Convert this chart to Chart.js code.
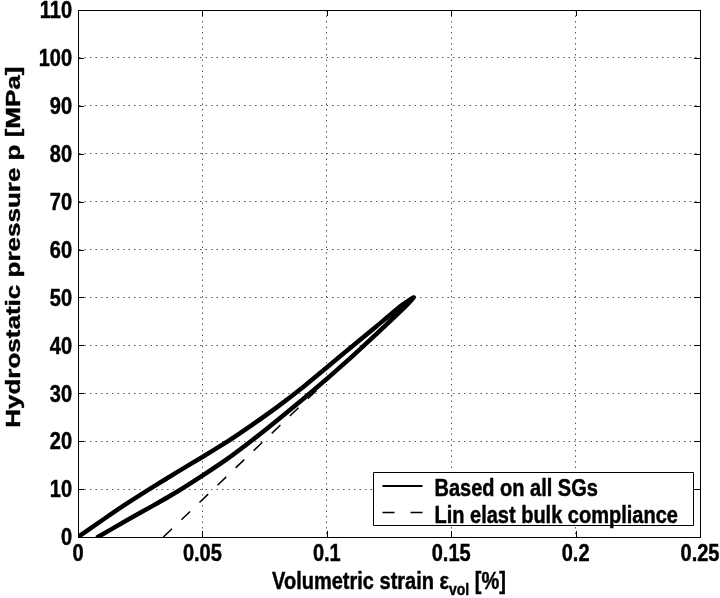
<!DOCTYPE html>
<html>
<head>
<meta charset="utf-8">
<script src="https://cdn.jsdelivr.net/npm/chart.js@4/dist/chart.umd.min.js"></script>
<style>
  html, body { margin: 0; padding: 0; background: #fff; }
  #wrap { width: 720px; height: 598px; }
  canvas { display: block; }
</style>
</head>
<body>
<div id="wrap"><canvas id="chart" width="720" height="598"></canvas></div>
<script>
// Axis ticks
const xTickValues = [0, 0.05, 0.1, 0.15, 0.2, 0.25];
const xTickLabels = ['0', '0.05', '0.1', '0.15', '0.2', '0.25'];
const yTickValues = [0, 10, 20, 30, 40, 50, 60, 70, 80, 90, 100, 110];
const yTickLabels = ['0', '10', '20', '30', '40', '50', '60', '70', '80', '90', '100', '110'];

// Pressure cycle measured from all strain gauges: loading branch, then unloading branch
const loopStrain = [0, 0.01, 0.02, 0.03, 0.04, 0.05, 0.06, 0.07, 0.08, 0.09, 0.1, 0.11, 0.12, 0.13, 0.135,
                    0.13, 0.12, 0.11, 0.1, 0.09, 0.08, 0.07, 0.06, 0.05, 0.04, 0.03, 0.02, 0.008];
const loopPressure = [0, 3.6, 7.1, 10.4, 13.6, 16.7, 19.9, 23.4, 27.1, 31.1, 35.4, 39.7, 44.0, 48.3, 50,
                      47.3, 42.4, 37.6, 33.0, 28.6, 24.3, 20.2, 16.3, 12.8, 9.5, 6.5, 3.6, 0];

// Linear elastic bulk compliance line
const bulkStrain = [0.0343, 0.135];
const bulkPressure = [0, 50];

const seriesLabels = ['Based on all SGs', 'Lin elast bulk compliance'];
const xTitleMain = 'Volumetric strain \u03b5';
const xTitleSub = 'vol';
const xTitleTail = ' [%]';
const yTitle = 'Hydrostatic pressure p [MPa]';

const FONT_FAMILY = '"Liberation Sans", Arial, Helvetica, sans-serif';
const FONT_SIZE = 20;
const TEXT_STRETCH = 1.15;     // horizontal text: glyphs drawn taller than wide
const YTITLE_STRETCH = 1.3;    // vertical title: stretched along its length
const CAP = 0.716 * FONT_SIZE * TEXT_STRETCH;

const toPoints = (xs, ys) => xs.map((x, i) => ({ x: x, y: ys[i] }));

function heavyText(ctx, text, x, y) {
  ctx.fillText(text, x, y);
  ctx.strokeText(text, x, y);
}

function tallText(ctx, text, x, y, align) {
  ctx.save();
  ctx.translate(x, y);
  ctx.scale(1, TEXT_STRETCH);
  ctx.textAlign = align;
  ctx.textBaseline = 'alphabetic';
  heavyText(ctx, text, 0, 0);
  ctx.restore();
}

// Frame, inward tick marks, tick labels, axis titles and the boxed legend
const framePlugin = {
  id: 'frame',
  afterDraw(chart) {
    const { ctx, chartArea: a, scales } = chart;
    const xs = scales.x, ys = scales.y;
    const mainFont = 'bold ' + FONT_SIZE + 'px ' + FONT_FAMILY;
    const subFont = 'bold ' + Math.round(FONT_SIZE * 0.72) + 'px ' + FONT_FAMILY;
    ctx.save();
    ctx.strokeStyle = '#000';
    ctx.lineWidth = 1;
    ctx.setLineDash([]);
    ctx.strokeRect(Math.round(a.left) + 0.5, Math.round(a.top) + 0.5,
                   Math.round(a.right - a.left), Math.round(a.bottom - a.top));
    const tl = 6;
    ctx.beginPath();
    xTickValues.forEach(v => {
      const px = Math.round(xs.getPixelForValue(v)) + 0.5;
      ctx.moveTo(px, a.bottom); ctx.lineTo(px, a.bottom - tl);
      ctx.moveTo(px, a.top); ctx.lineTo(px, a.top + tl);
    });
    yTickValues.forEach(v => {
      const py = Math.round(ys.getPixelForValue(v)) + 0.5;
      ctx.moveTo(a.left, py); ctx.lineTo(a.left + tl, py);
      ctx.moveTo(a.right, py); ctx.lineTo(a.right - tl, py);
    });
    ctx.stroke();

    // text styling shared by labels and titles
    ctx.fillStyle = '#000';
    ctx.strokeStyle = '#000';
    ctx.lineWidth = 0.4;
    ctx.lineJoin = 'round';

    // tick labels
    ctx.font = mainFont;
    xTickValues.forEach((v, i) => {
      tallText(ctx, xTickLabels[i], xs.getPixelForValue(v), a.bottom + 8 + CAP, 'center');
    });
    yTickValues.forEach((v, i) => {
      tallText(ctx, yTickLabels[i], a.left - 6, ys.getPixelForValue(v) + CAP / 2, 'right');
    });

    // x-axis title with subscript
    ctx.font = mainFont;
    const w1 = ctx.measureText(xTitleMain).width;
    const w3 = ctx.measureText(xTitleTail).width;
    ctx.font = subFont;
    const w2 = ctx.measureText(xTitleSub).width;
    const total = w1 + w2 + w3;
    const tx = (a.left + a.right) / 2 - total / 2;
    const ty = 589;
    ctx.font = mainFont;
    tallText(ctx, xTitleMain, tx, ty, 'left');
    ctx.font = subFont;
    tallText(ctx, xTitleSub, tx + w1, ty + 6, 'left');
    ctx.font = mainFont;
    tallText(ctx, xTitleTail, tx + w1 + w2, ty, 'left');

    // y-axis title, stretched along its length
    ctx.save();
    ctx.translate(20, ys.getPixelForValue(60.5));
    ctx.rotate(-Math.PI / 2);
    ctx.scale(YTITLE_STRETCH, 1);
    ctx.textAlign = 'center';
    ctx.textBaseline = 'alphabetic';
    ctx.font = mainFont;
    heavyText(ctx, yTitle, 0, 0);
    ctx.restore();

    // legend
    const bw = 320, bh = 53;
    const bx = Math.round(a.right - 7 - bw) + 0.5;
    const by = Math.round(a.bottom - 12 - bh) + 0.5;
    ctx.fillStyle = '#fff';
    ctx.fillRect(bx, by, bw, bh);
    ctx.strokeStyle = '#000';
    ctx.lineWidth = 1;
    ctx.strokeRect(bx, by, bw, bh);
    const rows = [by + 13.5, by + 40];
    const sx0 = bx + 9, sx1 = bx + 49;
    chart.data.datasets.forEach((ds, i) => {
      const ry = rows[i];
      ctx.strokeStyle = '#000';
      ctx.lineWidth = i === 0 ? 2 : 1.3;
      ctx.setLineDash(i === 0 ? [] : [12, 16]);
      ctx.beginPath();
      ctx.moveTo(sx0, ry); ctx.lineTo(sx1, ry);
      ctx.stroke();
      ctx.setLineDash([]);
      ctx.fillStyle = '#000';
      ctx.lineWidth = 0.4;
      ctx.font = mainFont;
      tallText(ctx, ds.label, bx + 61, ry + 2 + CAP / 2, 'left');
    });
    ctx.restore();
  }
};

new Chart(document.getElementById('chart'), {
  type: 'scatter',
  data: {
    datasets: [
      {
        label: seriesLabels[0],
        data: toPoints(loopStrain, loopPressure),
        showLine: true,
        borderColor: '#000',
        backgroundColor: '#000',
        borderWidth: 4.5,
        pointRadius: 0,
        tension: 0.2,
        borderJoinStyle: 'round',
        borderCapStyle: 'round',
        order: 1
      },
      {
        label: seriesLabels[1],
        data: toPoints(bulkStrain, bulkPressure),
        showLine: true,
        borderColor: '#000',
        backgroundColor: '#000',
        borderWidth: 1.5,
        borderDash: [12, 13],
        pointRadius: 0,
        order: 2
      }
    ]
  },
  options: {
    responsive: false,
    animation: false,
    devicePixelRatio: 1,
    layout: { padding: { top: 10, right: 20, left: 0, bottom: 0 } },
    plugins: {
      legend: { display: false },
      tooltip: { enabled: false }
    },
    scales: {
      x: {
        type: 'linear',
        min: 0, max: 0.25,
        afterBuildTicks(scale) { scale.ticks = xTickValues.map(v => ({ value: v })); },
        afterFit(scale) { scale.height = 61; },
        ticks: { display: false },
        grid: { color: 'rgba(0,0,0,0.65)', lineWidth: 1, drawTicks: false },
        border: { display: true, color: '#000', dash: [1.5, 4] }
      },
      y: {
        type: 'linear',
        min: 0, max: 110,
        afterBuildTicks(scale) { scale.ticks = yTickValues.map(v => ({ value: v })); },
        afterFit(scale) { scale.width = 78; },
        ticks: { display: false },
        grid: { color: 'rgba(0,0,0,0.65)', lineWidth: 1, drawTicks: false },
        border: { display: true, color: '#000', dash: [1.5, 4] }
      }
    }
  },
  plugins: [framePlugin]
});
</script>
</body>
</html>
